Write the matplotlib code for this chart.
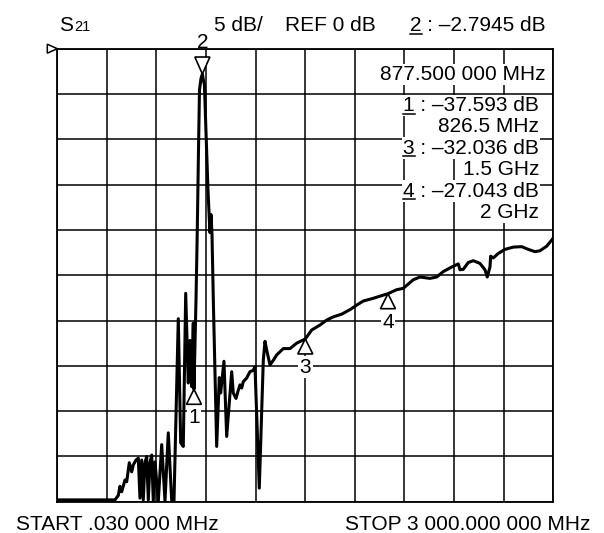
import matplotlib
matplotlib.use('Agg')
import matplotlib.pyplot as plt
from matplotlib.patches import Polygon
from matplotlib.lines import Line2D
from matplotlib.transforms import IdentityTransform
import numpy as np

plt.rcParams['font.family'] = ['Liberation Sans', 'DejaVu Sans']

# ---------------- data ----------------
freq_mhz = [0.03, 349, 369, 379, 389.5, 409.5, 419.7, 435.5, 450, 459.6, 476, 490,
            500, 510.5, 520, 530.4, 540.7, 550.4, 560.6, 571, 580.6, 591, 611,
            631.4, 651.4, 671.3, 692, 705.8, 731.8, 746.3, 762, 776.6, 792.3,
            802.6, 812.9, 822.5, 826.5, 839, 846.7, 854, 860, 869, 877.5, 884,
            890, 899, 911.4, 917.5, 923.6, 929.6, 935.7, 943.6, 964, 979.8, 988,
            1008, 1024.5, 1054.8, 1064.4, 1080.8, 1094.7, 1105, 1115.3, 1125,
            1145.5, 1165.4, 1185.4, 1195.7, 1221.7, 1245.9, 1256.2, 1266.4,
            1286.4, 1306.4, 1326.9, 1346.9, 1366.8, 1407.4, 1447.9, 1500,
            1538.6, 1588.8, 1629.3, 1669.2, 1720, 1770.3, 1810.8, 1850.7, 1911,
            1971.6, 2000, 2052.7, 2092.6, 2153, 2193.6, 2254, 2294.6, 2334.5,
            2385.3, 2425.2, 2435.5, 2455.5, 2485.7, 2516, 2556.5, 2586.7,
            2600.6, 2617, 2621, 2637, 2667, 2707.7, 2757.9, 2808.7, 2848.6,
            2889, 2919.4, 2960, 3000]
s21_db = [-49.8, -49.8, -49.3, -48.3, -48.9, -47.6, -47.8, -45.7, -46.7, -45.95,
          -45.4, -45.2, -49.6, -45.4, -49.8, -45.7, -45.0, -49.8, -45.7, -44.85,
          -49.9, -45.6, -49.9, -43.7, -49.9, -42.4, -49.9, -49.9, -29.8, -43.5,
          -43.9, -27.0, -36.9, -32.2, -37.3, -30.3, -37.593, -27.7, -20.0, -11.2,
          -4.56, -3.3, -2.7945, -3.5, -4.0, -9.0, -15.6, -18.0, -20.3, -18.3,
          -20.5, -27.7, -43.9, -36.3, -38.0, -34.5, -42.8, -35.65, -38.0, -38.6,
          -37.7, -37.1, -37.45, -36.75, -36.35, -35.65, -35.5, -35.1, -48.5,
          -34.4, -32.3, -33.25, -34.9, -34.4, -33.8, -33.45, -33.1, -33.1, -32.5,
          -32.036, -31.05, -30.5, -29.95, -29.6, -29.3, -28.8, -28.3, -27.85,
          -27.55, -27.2, -27.043, -26.6, -26.45, -25.5, -25.2, -25.35, -25.2,
          -24.6, -24.1, -23.75, -24.4, -24.35, -23.6, -23.4, -23.7, -24.4, -25.2,
          -24.1, -22.9, -23.1, -22.6, -22.15, -21.9, -21.85, -22.15, -22.4,
          -22.3, -21.8, -20.9]

marker_ids = ['1', '2', '3', '4']
marker_freq = [826.5, 877.5, 1500.0, 2000.0]
marker_db = [-37.593, -2.7945, -32.036, -27.043]

start_mhz = 0.03
stop_mhz = 3000.0
ref_db = 0.0
db_per_div = 5.0
n_div = 10

header_lines = ['5 dB/', 'REF 0 dB']
active_marker = ('2', ' : \u20132.7945 dB')
readout_freq = '877.500 000 MHz'
readout_lines = [('1', ' : \u201337.593 dB'), (None, '826.5 MHz'),
                 ('3', ' : \u201332.036 dB'), (None, '1.5 GHz'),
                 ('4', ' : \u201327.043 dB'), (None, '2 GHz')]
start_label = 'START .030 000 MHz'
stop_label = 'STOP 3 000.000 000 MHz'

# ---------------- figure ----------------
W, H = 604, 533
FS = 15
fig = plt.figure(figsize=(W / 100, H / 100), dpi=100)
fig.patch.set_facecolor('white')

L, R, T, B = 57.3, 553.3, 48.7, 501.7
ax = fig.add_axes([L / W, (H - B) / H, (R - L) / W, (B - T) / H])
ax.set_xlim(start_mhz, stop_mhz)
ax.set_ylim(ref_db - n_div * db_per_div, ref_db)
ax.set_xticks(np.linspace(start_mhz, stop_mhz, n_div + 1))
ax.set_yticks(np.linspace(ref_db - n_div * db_per_div, ref_db, n_div + 1))
ax.grid(True, color='black', lw=1.1)
ax.tick_params(length=0, labelbottom=False, labelleft=False)
for s in ax.spines.values():
    s.set_linewidth(1.3)
    s.set_color('black')
ax.set_axisbelow(True)

ax.plot(freq_mhz, s21_db, color='black', lw=2.2, zorder=3)


def fx(x):
    return x / W


def fy(y):
    return 1 - y / H


renderer = fig.canvas.get_renderer()
box = dict(facecolor='white', edgecolor='none', pad=1.0)


def underline(num, x_left, base_y):
    tmp = fig.text(0, 0, num, fontsize=FS)
    w = tmp.get_window_extent(renderer).width
    tmp.remove()
    yy = H - base_y - 2.5
    fig.add_artist(Line2D([x_left, x_left + w], [yy, yy], color='black', lw=1.1,
                          transform=IdentityTransform(), zorder=10))


# header
fig.text(fx(59), fy(31), 'S', fontsize=FS, va='baseline', ha='left')
fig.text(fx(74), fy(31), '21', fontsize=10.5, va='baseline', ha='left')
fig.text(fx(213.5), fy(31), header_lines[0], fontsize=FS, va='baseline', ha='left')
fig.text(fx(285), fy(31), header_lines[1], fontsize=FS, va='baseline', ha='left')
fig.text(fx(410), fy(31), active_marker[0] + active_marker[1], fontsize=FS,
         va='baseline', ha='left')
underline(active_marker[0], 410, 31)

# readout box
fig.text(fx(546), fy(80), readout_freq, fontsize=FS, va='baseline', ha='right',
         bbox=box, zorder=8)
baselines = [111, 132, 153.5, 175, 196.5, 217.5]
for (num, rest), by in zip(readout_lines, baselines):
    s = (num or '') + rest
    t = fig.text(fx(539), fy(by), s, fontsize=FS, va='baseline', ha='right',
                 bbox=box, zorder=8)
    if num:
        ext = t.get_window_extent(renderer)
        underline(num, ext.x0, by)

# bottom labels
fig.text(fx(16), fy(530), start_label, fontsize=FS, va='baseline', ha='left')
fig.text(fx(590), fy(530), stop_label, fontsize=FS, va='baseline', ha='right')

# reference level marker
fig.add_artist(Polygon([(L, H - T), (L - 10, H - T + 4.5), (L - 10, H - T - 4.5)],
                       closed=True, facecolor='white', edgecolor='black', lw=1.1,
                       transform=IdentityTransform(), zorder=6))

# markers
for mid, mf, md in zip(marker_ids, marker_freq, marker_db):
    X, Y = ax.transData.transform((mf, md))
    if mid == '2':
        poly = [(X, Y), (X - 7.5, Y + 17), (X + 7.5, Y + 17)]
        lab_base = (H - Y) - 26
    else:
        poly = [(X, Y), (X - 7.5, Y - 15), (X + 7.5, Y - 15)]
        lab_base = (H - Y) + 34
    fig.add_artist(Polygon(poly, closed=True, facecolor='white', edgecolor='black',
                           lw=1.2, transform=IdentityTransform(), zorder=6))
    fig.text(fx(X), fy(lab_base), mid, fontsize=FS, va='baseline', ha='center',
             bbox=box if mid != '2' else None, zorder=7)

fig.savefig('out.png', dpi=100, facecolor='white')
